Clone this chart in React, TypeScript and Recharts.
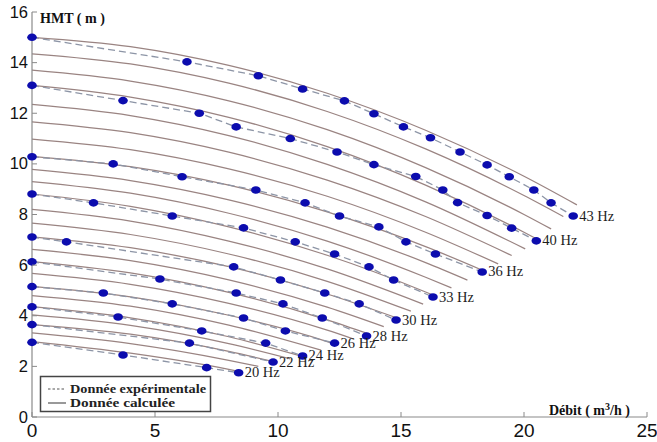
import React from 'react';
import { LineChart, Line, XAxis, YAxis, LabelList } from 'recharts';

type P = [number, number];

const xTicks = [0, 5, 10, 15, 20, 25];
const yTicks = [0, 2, 4, 6, 8, 10, 12, 14, 16];

// Calculated curves (solid), one per frequency 20..43 Hz: [débit, HMT]
const calc20: P[] = [[0, 2.98], [4, 2.52], [8, 1.88], [8.5, 1.78]];
const calc21: P[] = [[0, 3.32], [4, 2.9], [8, 2.24], [9.2, 2.0]];
const calc22: P[] = [[0, 3.65], [4, 3.27], [8, 2.59], [9.9, 2.17]];
const calc23: P[] = [[0, 4.03], [4, 3.62], [8, 2.9], [10.5, 2.3]];
const calc24: P[] = [[0, 4.36], [4, 3.92], [8, 3.17], [11.1, 2.36]];
const calc25: P[] = [[0, 4.8], [4, 4.38], [8, 3.63], [11.75, 2.64]];
const calc26: P[] = [[0, 5.16], [4, 4.75], [8, 4.02], [12, 2.98], [12.4, 2.85]];
const calc27: P[] = [[0, 5.67], [4, 5.24], [8, 4.49], [12, 3.43], [13.05, 3.09]];
const calc28: P[] = [[0, 6.14], [4, 5.69], [8, 4.92], [12, 3.84], [13.7, 3.28]];
const calc29: P[] = [[0, 6.62], [4, 6.18], [8, 5.42], [12, 4.34], [14.3, 3.57]];
const calc30: P[] = [[0, 7.12], [4, 6.69], [8, 5.94], [12, 4.86], [14.9, 3.89]];
const calc31: P[] = [[0, 7.66], [4, 7.21], [8, 6.44], [12, 5.36], [15.4, 4.18]];
const calc32: P[] = [[0, 8.2], [4, 7.74], [8, 6.95], [12, 5.85], [15.9, 4.46]];
const calc33: P[] = [[0, 8.81], [4, 8.32], [8, 7.51], [12, 6.39], [16, 4.94], [16.4, 4.78]];
const calc34: P[] = [[0, 9.3], [4, 8.84], [8, 8.05], [12, 6.95], [16, 5.52], [17.05, 5.1]];
const calc35: P[] = [[0, 9.78], [4, 9.34], [8, 8.58], [12, 7.5], [16, 6.1], [17.7, 5.41]];
const calc36: P[] = [[0, 10.3], [4, 9.89], [8, 9.16], [12, 8.1], [16, 6.73], [18.4, 5.76]];
const calc37: P[] = [[0, 10.98], [4, 10.56], [8, 9.8], [12, 8.72], [16, 7.3], [18.95, 6.05]];
const calc38: P[] = [[0, 11.66], [4, 11.23], [8, 10.46], [12, 9.36], [16, 7.92], [19.5, 6.38]];
const calc39: P[] = [[0, 12.35], [4, 11.91], [8, 11.12], [12, 9.98], [16, 8.5], [20.05, 6.64]];
const calc40: P[] = [[0, 13.1], [4, 12.64], [8, 11.84], [12, 10.68], [16, 9.16], [20, 7.3], [20.6, 6.99]];
const calc41: P[] = [[0, 13.7], [4, 13.27], [8, 12.49], [12, 11.35], [16, 9.85], [20, 8.0], [21.1, 7.43]];
const calc42: P[] = [[0, 14.35], [4, 13.95], [8, 13.19], [12, 12.07], [16, 10.59], [20, 8.75], [21.6, 7.92]];
const calc43: P[] = [[0, 15.0], [4, 14.63], [8, 13.89], [12, 12.79], [16, 11.33], [20, 9.51], [22.15, 8.38]];

// Experimental data (dashed + dots)
const exp20: P[] = [[0, 2.95], [3.7, 2.45], [7.1, 1.95], [8.4, 1.75]];
const exp22: P[] = [[0, 3.65], [6.4, 2.92], [9.8, 2.17]];
const exp24: P[] = [[0, 4.35], [3.5, 3.95], [6.9, 3.4], [9.5, 2.92], [11.0, 2.41]];
const exp26: P[] = [[0, 5.15], [2.9, 4.9], [5.7, 4.47], [8.6, 3.91], [10.3, 3.4], [12.3, 2.92]];
const exp28: P[] = [[0, 6.13], [5.2, 5.45], [8.3, 4.9], [10.2, 4.47], [11.8, 3.91], [13.6, 3.2]];
const exp30: P[] = [[0, 7.11], [1.4, 6.92], [8.2, 5.93], [10.1, 5.41], [11.9, 4.9], [13.3, 4.47], [14.8, 3.83]];
const exp33: P[] = [[0, 8.81], [2.5, 8.46], [5.7, 7.94], [8.6, 7.47], [10.7, 6.92], [12.3, 6.44], [13.7, 5.93], [14.7, 5.41], [16.3, 4.74]];
const exp36: P[] = [[0, 10.28], [3.3, 10.0], [6.1, 9.49], [9.1, 8.97], [11.1, 8.46], [12.5, 7.94], [14.1, 7.51], [15.2, 6.92], [16.4, 6.44], [18.3, 5.73]];
const exp40: P[] = [[0, 13.1], [3.7, 12.5], [6.8, 12.0], [8.3, 11.46], [10.5, 11.0], [12.4, 10.47], [13.9, 9.97], [15.6, 9.5], [16.7, 8.97], [17.3, 8.47], [18.5, 7.96], [19.5, 7.46], [20.5, 6.96]];
const exp43: P[] = [[0, 15.0], [6.3, 14.03], [9.2, 13.48], [11.0, 12.96], [12.7, 12.49], [13.9, 11.98], [15.1, 11.46], [16.2, 11.03], [17.4, 10.47], [18.5, 9.96], [19.4, 9.49], [20.4, 8.97], [21.1, 8.46], [22.0, 7.94]];

const calcCurves = [
  { f: 20, pts: calc20 }, { f: 21, pts: calc21 }, { f: 22, pts: calc22 }, { f: 23, pts: calc23 },
  { f: 24, pts: calc24 }, { f: 25, pts: calc25 }, { f: 26, pts: calc26 }, { f: 27, pts: calc27 },
  { f: 28, pts: calc28 }, { f: 29, pts: calc29 }, { f: 30, pts: calc30 }, { f: 31, pts: calc31 },
  { f: 32, pts: calc32 }, { f: 33, pts: calc33 }, { f: 34, pts: calc34 }, { f: 35, pts: calc35 },
  { f: 36, pts: calc36 }, { f: 37, pts: calc37 }, { f: 38, pts: calc38 }, { f: 39, pts: calc39 },
  { f: 40, pts: calc40 }, { f: 41, pts: calc41 }, { f: 42, pts: calc42 }, { f: 43, pts: calc43 },
];

const expCurves = [
  { label: '20 Hz', pts: exp20 }, { label: '22 Hz', pts: exp22 }, { label: '24 Hz', pts: exp24 },
  { label: '26 Hz', pts: exp26 }, { label: '28 Hz', pts: exp28 }, { label: '30 Hz', pts: exp30 },
  { label: '33 Hz', pts: exp33 }, { label: '36 Hz', pts: exp36 }, { label: '40 Hz', pts: exp40 },
  { label: '43 Hz', pts: exp43 },
];

const toRows = (pts: P[]) => pts.map(([q, h]) => ({ q, h }));

const AXIS = '#8a8a8a';
const CALC = '#9a8482';
const EXP = '#8d95a6';
const DOT = '#0c0cae';
const SERIF = "'Liberation Serif', 'Times New Roman', serif";
const SANS = "'Liberation Sans', Arial, sans-serif";

const BlueDot = (props: any) => {
  const { cx, cy, index } = props;
  if (cx == null || cy == null) return <g key={index} />;
  return <ellipse key={index} cx={cx} cy={cy} rx={4.8} ry={3.8} fill={DOT} />;
};

const makeLabel = (text: string, last: number) => (props: any) => {
  const { x, y, index } = props;
  if (index !== last) return null;
  return (
    <text x={x + 6} y={y + 4.5} fontFamily={SERIF} fontSize={14.5} fill="#1e1e1e">
      {text}
    </text>
  );
};

const YTick = (props: any) => {
  const { x, y, payload } = props;
  return (
    <g>
      <line x1={x + 4} y1={y} x2={x + 9} y2={y} stroke={AXIS} strokeWidth={1} />
      <text x={x} y={y + 5.5} textAnchor="end" fontFamily={SANS} fontSize={16.5} fill="#111">
        {payload.value}
      </text>
    </g>
  );
};

const XTick = (props: any) => {
  const { x, y, payload } = props;
  return (
    <g>
      <line x1={x} y1={y} x2={x} y2={y - 5} stroke={AXIS} strokeWidth={1} />
      <text x={x} y={y + 20} textAnchor="middle" fontFamily={SANS} fontSize={19} fill="#111">
        {payload.value}
      </text>
    </g>
  );
};

export default function App() {
  return (
    <div style={{ position: 'absolute', left: 0, top: 0, width: 657, height: 442, background: '#fff' }}>
      <LineChart width={657} height={442} margin={{ top: 12, right: 10, bottom: 0, left: 0 }}>
        <XAxis
          dataKey="q"
          type="number"
          domain={[0, 25]}
          ticks={xTicks}
          height={25}
          tickSize={0}
          tickMargin={0}
          tickLine={false}
          axisLine={{ stroke: AXIS, strokeWidth: 1.2 }}
          tick={<XTick />}
          interval={0}
        />
        <YAxis
          dataKey="h"
          type="number"
          domain={[0, 16]}
          ticks={yTicks}
          width={32}
          tickSize={0}
          tickMargin={4}
          tickLine={false}
          axisLine={{ stroke: AXIS, strokeWidth: 1.2 }}
          tick={<YTick />}
          interval={0}
        />
        {calcCurves.map((c) => (
          <Line
            key={'c' + c.f}
            data={toRows(c.pts)}
            dataKey="h"
            type="monotone"
            stroke={CALC}
            strokeWidth={1.25}
            dot={false}
            activeDot={false}
            isAnimationActive={false}
          />
        ))}
        {expCurves.map((e) => (
          <Line
            key={'e' + e.label}
            data={toRows(e.pts)}
            dataKey="h"
            type="linear"
            stroke={EXP}
            strokeWidth={1.3}
            strokeDasharray="7 4"
            dot={BlueDot}
            activeDot={false}
            isAnimationActive={false}
          >
            <LabelList dataKey="h" content={makeLabel(e.label, e.pts.length - 1)} />
          </Line>
        ))}
      </LineChart>
      <svg
        width={657}
        height={442}
        style={{ position: 'absolute', left: 0, top: 0, pointerEvents: 'none' }}
      >
        <text x={40} y={23} fontFamily={SERIF} fontWeight="bold" fontSize={14} fill="#111" textLength={65} lengthAdjust="spacingAndGlyphs">
          HMT ( m )
        </text>
        <text x={549} y={415} fontFamily={SERIF} fontWeight="bold" fontSize={14} fill="#111">
          Débit  ( m<tspan dy={-5} fontSize={10}>3</tspan><tspan dy={5}>/h )</tspan>
        </text>
        <rect x={40.5} y={376.5} width={170} height={35} fill="#fff" stroke="#444" strokeWidth={1.5} />
        <line x1={48} y1={389} x2={66} y2={389} stroke="#555" strokeWidth={1.2} strokeDasharray="2.5 2" />
        <text x={70} y={393} fontFamily={SERIF} fontWeight="bold" fontSize={13.5} fill="#222" textLength={136} lengthAdjust="spacingAndGlyphs">
          Donnée expérimentale
        </text>
        <line x1={48} y1={403} x2={66} y2={403} stroke="#555" strokeWidth={1.2} />
        <text x={70} y={407} fontFamily={SERIF} fontWeight="bold" fontSize={13.5} fill="#222" textLength={105} lengthAdjust="spacingAndGlyphs">
          Donnée calculée
        </text>
      </svg>
    </div>
  );
}
